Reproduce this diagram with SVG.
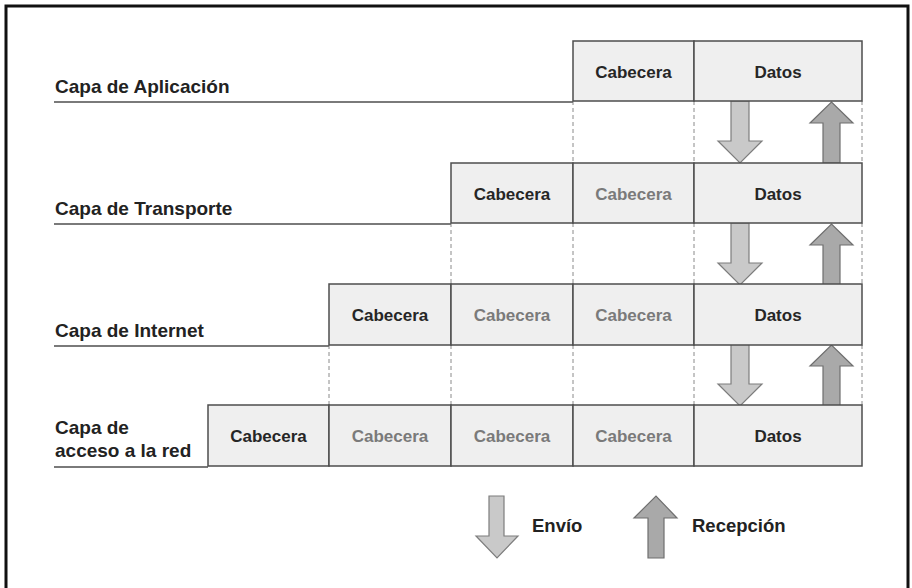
<svg xmlns="http://www.w3.org/2000/svg" width="912" height="588" viewBox="0 0 912 588">
<style>
.lbl{font-family:"Liberation Sans",Arial,sans-serif;font-weight:bold;font-size:19px;fill:#222}
.bx{fill:#efefef;stroke:#4d4d4d;stroke-width:1.5}
.t{font-family:"Liberation Sans",Arial,sans-serif;font-weight:bold;font-size:17px;text-anchor:middle}
.dk{fill:#262626}
.lt{fill:#7a7a7a}
.ul{stroke:#7a7a7a;stroke-width:2;fill:none}
.ds{stroke:#8a8a8a;stroke-width:1;stroke-dasharray:4 3;fill:none}
.dn{fill:#c9c9c9;stroke:#7d7d7d;stroke-width:1.2}
.up{fill:#a9a9a9;stroke:#6f6f6f;stroke-width:1.2}
.lg{font-family:"Liberation Sans",Arial,sans-serif;font-weight:bold;font-size:18.5px;fill:#222}
</style>
<defs>
<polygon id="adown" points="731,101 749,101 749,141 762,141 740,163 718,141 731,141"/>
<polygon id="aup" points="823,163 840,163 840,123 853,123 831.5,102 810,123 823,123"/>
</defs>
<rect x="6" y="6" width="902" height="590" fill="#fff" stroke="#111" stroke-width="3"/>

<g id="connectors">
<path class="ds" d="M573,101V163M694,101V163M862,101V163"/>
<path class="ds" d="M451,223V284M573,223V284M694,223V284M862,223V284"/>
<path class="ds" d="M329,345V405M451,345V405M573,345V405M694,345V405M862,345V405"/>
<use href="#adown" class="dn"/>
<use href="#aup" class="up"/>
<use href="#adown" class="dn" transform="translate(0,122)"/>
<use href="#aup" class="up" transform="translate(0,122)"/>
<use href="#adown" class="dn" transform="translate(0,243)"/>
<use href="#aup" class="up" transform="translate(0,243)"/>
</g>

<g id="row-aplicacion">
<text class="lbl" x="55" y="93">Capa de Aplicación</text>
<line class="ul" x1="54" y1="102" x2="573" y2="102"/>
<rect class="bx" x="573" y="41" width="121" height="60"/>
<rect class="bx" x="694" y="41" width="168" height="60"/>
<text class="t dk" x="633.5" y="78">Cabecera</text>
<text class="t dk" x="778" y="78">Datos</text>
</g>

<g id="row-transporte">
<text class="lbl" x="55" y="215">Capa de Transporte</text>
<line class="ul" x1="54" y1="224" x2="451" y2="224"/>
<rect class="bx" x="451" y="163" width="122" height="60"/>
<rect class="bx" x="573" y="163" width="121" height="60"/>
<rect class="bx" x="694" y="163" width="168" height="60"/>
<text class="t dk" x="512" y="200">Cabecera</text>
<text class="t lt" x="633.5" y="200">Cabecera</text>
<text class="t dk" x="778" y="200">Datos</text>
</g>

<g id="row-internet">
<text class="lbl" x="55" y="337">Capa de Internet</text>
<line class="ul" x1="54" y1="346" x2="329" y2="346"/>
<rect class="bx" x="329" y="284" width="122" height="61"/>
<rect class="bx" x="451" y="284" width="122" height="61"/>
<rect class="bx" x="573" y="284" width="121" height="61"/>
<rect class="bx" x="694" y="284" width="168" height="61"/>
<text class="t dk" x="390" y="321">Cabecera</text>
<text class="t lt" x="512" y="321">Cabecera</text>
<text class="t lt" x="633.5" y="321">Cabecera</text>
<text class="t dk" x="778" y="321">Datos</text>
</g>

<g id="row-acceso">
<text class="lbl" x="55" y="434">Capa de</text>
<text class="lbl" x="55" y="457">acceso a la red</text>
<line class="ul" x1="54" y1="467" x2="208" y2="467"/>
<rect class="bx" x="208" y="405" width="121" height="61"/>
<rect class="bx" x="329" y="405" width="122" height="61"/>
<rect class="bx" x="451" y="405" width="122" height="61"/>
<rect class="bx" x="573" y="405" width="121" height="61"/>
<rect class="bx" x="694" y="405" width="168" height="61"/>
<text class="t dk" x="268.5" y="442">Cabecera</text>
<text class="t lt" x="390" y="442">Cabecera</text>
<text class="t lt" x="512" y="442">Cabecera</text>
<text class="t lt" x="633.5" y="442">Cabecera</text>
<text class="t dk" x="778" y="442">Datos</text>
</g>

<g id="legend">
<polygon class="dn" points="489,496 504,496 504,536 518,536 497,558 476,536 489,536"/>
<text class="lg" x="532" y="532">Envío</text>
<polygon class="up" points="648,558 664,558 664,518 677,518 656,496 634,518 648,518"/>
<text class="lg" x="692" y="532">Recepción</text>
</g>
</svg>
